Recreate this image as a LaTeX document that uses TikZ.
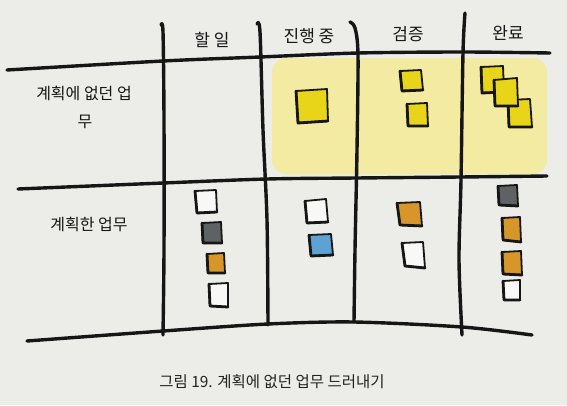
\documentclass[tikz,border=0pt]{standalone}
\usepackage{fontspec}
\setmainfont{Noto Sans CJK KR}
\newfontfamily\krfont{Noto Sans CJK KR}
\definecolor{paper}{RGB}{236,236,233}
\definecolor{wash}{RGB}{243,235,162}
\definecolor{ylw}{RGB}{232,212,24}
\definecolor{gry}{RGB}{95,98,101}
\definecolor{org}{RGB}{214,150,42}
\definecolor{blu}{RGB}{92,162,210}
\definecolor{wht}{RGB}{248,248,246}
\definecolor{ink}{RGB}{22,22,22}
\definecolor{captxt}{RGB}{35,35,35}
\tikzset{
  board/.style={draw=ink, line width=3.4pt, line cap=round, line join=round},
  stk/.style={draw=ink, line width=1.8pt, line join=round},
  stkedge/.style={draw=ink, line width=2.8pt, line cap=round, line join=round},
  hand/.style={font=\krfont\fontsize{17}{19}\selectfont, text=ink, inner sep=0pt},
  rowlab/.style={font=\krfont\fontsize{16}{18}\selectfont, text=ink, inner sep=0pt},
  captionstyle/.style={font=\krfont\fontsize{15.5}{17}\selectfont, text=captxt, inner sep=0pt}
}
\newcommand\stknote[5]{%
  \filldraw[stk, fill=#1] #2 -- #3 -- #4 -- #5 -- cycle;
  \draw[stkedge] #2 -- #5 -- #4;}
\begin{document}
\begin{tikzpicture}[x=1pt,y=-1pt]
\useasboundingbox (0,0) rectangle (567,405);
\fill[paper] (0,0) rectangle (567,405);
% yellow wash
\fill[wash, rounded corners=14pt] (272,58) rectangle (547,174);
% board lines
\draw[board] plot[smooth] coordinates {(7,70) (163,61) (260,57) (358,53) (463,52) (550,53)};
\draw[board] plot[smooth] coordinates {(18,189) (163,183) (267,179) (356,178) (460,177) (547,176)};
\draw[board] plot[smooth] coordinates {(27,341) (163,331) (268,324) (354,322) (462,327) (532,335)};
\draw[board] plot[smooth] coordinates {(161,25) (163,32) (164,120) (164,250) (163,335)};
\draw[board] plot[smooth] coordinates {(257,24) (260,32) (263,130) (267,220) (268,325)};
\draw[board] plot[smooth] coordinates {(350,22) (355,28) (358,55) (357,150) (355,250) (354,322)};
\draw[board] plot[smooth] coordinates {(465,13) (463,53) (461,180) (459,260) (462,335)};
% headers
\node[hand] (h1) at (212,40) {할 일};
\node[hand] (h2) at (309,36) {진행 중};
\node[hand] (h3) at (408,34) {검증};
\node[hand] (h4) at (508,33) {완료};
% row labels
\node[rowlab] (r1a) at (84,93) {계획에 없던 업};
\node[rowlab] (r1b) at (85,122) {무};
\node[rowlab] (r2) at (89,224) {계획한 업무};
% unplanned notes
\stknote{ylw}{(296,91)}{(327,89)}{(328,121)}{(298,123)}
\stknote{ylw}{(400,71)}{(421,70)}{(423,90)}{(402,91)}
\stknote{ylw}{(407,104)}{(427,103)}{(428,126)}{(408,126)}
\stknote{ylw}{(481,67)}{(503,66)}{(504,92)}{(482,93)}
\stknote{ylw}{(508,100)}{(530,99)}{(532,127)}{(509,127)}
\stknote{ylw}{(494,80)}{(517,78)}{(518,106)}{(495,106)}
% planned notes
\stknote{wht}{(195,191)}{(216,190)}{(217,212)}{(197,213)}
\stknote{gry}{(202,223)}{(221,222)}{(222,243)}{(203,243)}
\stknote{org}{(207,254)}{(224,253)}{(225,273)}{(208,273)}
\stknote{wht}{(209,284)}{(228,283)}{(228,307)}{(210,306)}
\stknote{wht}{(305,201)}{(326,199)}{(328,222)}{(307,223)}
\stknote{blu}{(309,235)}{(331,234)}{(333,255)}{(311,256)}
\stknote{org}{(397,203)}{(420,202)}{(422,226)}{(400,225)}
\stknote{wht}{(402,243)}{(423,242)}{(425,268)}{(405,266)}
\stknote{gry}{(498,186)}{(517,185)}{(518,206)}{(499,205)}
\stknote{org}{(502,218)}{(520,217)}{(521,242)}{(503,240)}
\stknote{org}{(502,252)}{(521,251)}{(522,275)}{(503,274)}
\stknote{wht}{(503,281)}{(520,280)}{(520,300)}{(504,300)}
% caption
\node[captionstyle] (caption) at (272,382) {그림 19. 계획에 없던 업무 드러내기};
\end{tikzpicture}
\end{document}
